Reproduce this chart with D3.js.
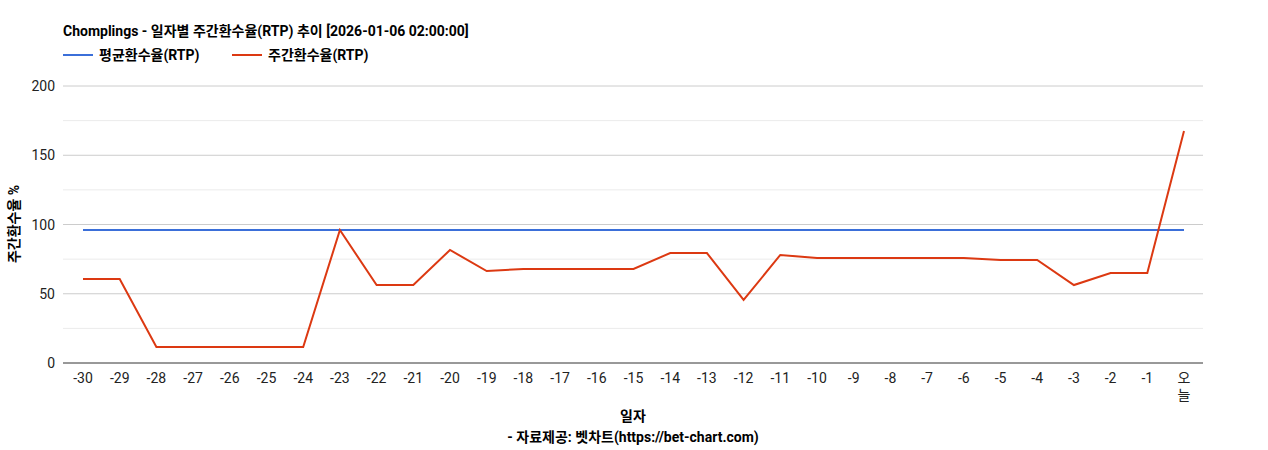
<!DOCTYPE html>
<html><head><meta charset="utf-8">
<script src="https://cdn.jsdelivr.net/npm/d3@7"></script>
<style>body{margin:0;background:#fff;font-family:Roboto,"Noto Sans CJK KR",sans-serif;}</style>
</head><body><svg id="c" width="1268" height="450"></svg>
<script>
var days = ["-30","-29","-28","-27","-26","-25","-24","-23","-22","-21","-20","-19","-18","-17","-16","-15","-14","-13","-12","-11","-10","-9","-8","-7","-6","-5","-4","-3","-2","-1","오늘"];
var weeklyRtp = [60.6,60.6,11.5,11.5,11.5,11.5,11.5,96,56.3,56.3,81.6,66.4,67.9,67.9,67.9,67.9,79.4,79.4,45.5,78,75.8,75.8,75.8,75.8,75.8,74.4,74.4,56.3,65,65,167.5];
var avgRtp = 96;
var yTicks = [0,50,100,150,200];

var svg = d3.select("#c");
var font = 'Roboto,"Noto Sans CJK KR",sans-serif';
var m = {l:63, r:1203, t:86, b:363};
var x = d3.scalePoint().domain(days).range([83,1184]);
var y = d3.scaleLinear().domain([0,200]).range([m.b,m.t]);

// minor grid
svg.selectAll(".minor").data([25,75,125,175]).enter().append("line")
  .attr("x1",m.l).attr("x2",m.r).attr("y1",d=>y(d)).attr("y2",d=>y(d))
  .attr("stroke","#ebebeb");
svg.selectAll(".major").data(yTicks.slice(1)).enter().append("line")
  .attr("x1",m.l).attr("x2",m.r).attr("y1",d=>y(d)).attr("y2",d=>y(d))
  .attr("stroke","#cccccc");
svg.append("line").attr("x1",m.l).attr("x2",m.r).attr("y1",y(0)).attr("y2",y(0)).attr("stroke","#333");

svg.selectAll(".yt").data(yTicks).enter().append("text")
  .attr("x",m.l-8).attr("y",d=>y(d)+5).attr("text-anchor","end")
  .attr("font-family",font).attr("font-size",14).attr("fill","#222").text(d=>d);

days.forEach(function(d){
  var t = svg.append("text").attr("x",x(d)).attr("y",383).attr("text-anchor","middle")
    .attr("font-family",font).attr("font-size",14).attr("fill","#222");
  if (d === "오늘") {
    t.append("tspan").attr("x",x(d)).text("오");
    t.append("tspan").attr("x",x(d)).attr("dy",17).text("늘");
  } else t.text(d);
});

svg.append("line").attr("x1",x(days[0])).attr("x2",x(days[days.length-1]))
  .attr("y1",y(avgRtp)).attr("y2",y(avgRtp)).attr("stroke","#3b6fd9").attr("stroke-width",2);

var line = d3.line().x((d,i)=>x(days[i])).y(d=>y(d));
svg.append("path").datum(weeklyRtp).attr("d",line).attr("fill","none")
  .attr("stroke","#dc3912").attr("stroke-width",2);

svg.append("text").attr("x",63).attr("y",36).attr("font-family",font).attr("font-size",14)
  .attr("font-weight","bold").attr("fill","#000").text("Chomplings - 일자별 주간환수율(RTP) 추이 [2026-01-06 02:00:00]");
// legend
svg.append("line").attr("x1",63).attr("x2",93).attr("y1",55).attr("y2",55).attr("stroke","#3b6fd9").attr("stroke-width",2);
svg.append("text").attr("x",99).attr("y",60).attr("font-family",font).attr("font-size",14).attr("font-weight","bold").text("평균환수율(RTP)");
svg.append("line").attr("x1",232).attr("x2",262).attr("y1",55).attr("y2",55).attr("stroke","#dc3912").attr("stroke-width",2);
svg.append("text").attr("x",268).attr("y",60).attr("font-family",font).attr("font-size",14).attr("font-weight","bold").text("주간환수율(RTP)");

svg.append("text").attr("x",633).attr("y",421).attr("text-anchor","middle").attr("font-family",font)
  .attr("font-size",14).attr("font-weight","bold").text("일자");
svg.append("text").attr("x",633).attr("y",442).attr("text-anchor","middle").attr("font-family",font)
  .attr("font-size",14).attr("font-weight","bold").text("- 자료제공: 벳차트(https://bet-chart.com)");
svg.append("text").attr("transform","translate(19,224) rotate(-90)").attr("text-anchor","middle")
  .attr("font-family",font).attr("font-size",14).attr("font-weight","bold").text("주간환수율 %");
</script></body></html>
